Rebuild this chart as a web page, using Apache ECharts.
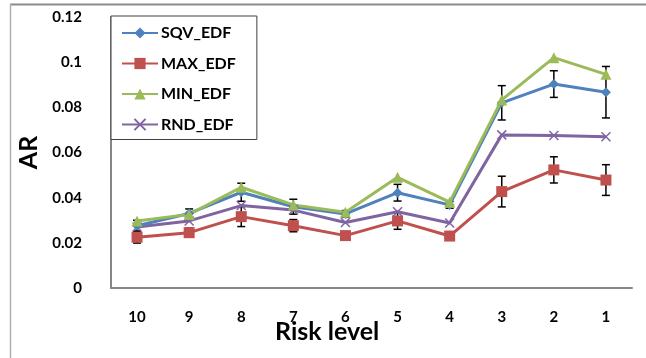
<!DOCTYPE html>
<html><head><meta charset="utf-8">
<script src="https://cdn.jsdelivr.net/npm/echarts@6/dist/echarts.min.js"></script>
<style>html,body{margin:0;padding:0;background:#fff}#c{width:646px;height:358px}</style>
</head><body><div id="c"></div>
<script>
const categories = ['10','9','8','7','6','5','4','3','2','1'];
const sqvEdf = [0.0276, 0.0330, 0.0424, 0.0360, 0.0328, 0.0422, 0.0368, 0.0820, 0.0903, 0.0867];
const maxEdf = [0.0225, 0.0245, 0.0316, 0.0276, 0.0232, 0.0297, 0.0230, 0.0427, 0.0523, 0.0478];
const minEdf = [0.0297, 0.0326, 0.0446, 0.0368, 0.0335, 0.0490, 0.0380, 0.0833, 0.1020, 0.0946];
const rndEdf = [0.0270, 0.0297, 0.0365, 0.0345, 0.0290, 0.0338, 0.0288, 0.0678, 0.0675, 0.0670];
const sqvErr = [0.0024, 0.0020, 0.0040, 0.0033, 0.0015, 0.0037, 0.0015, 0.0076, 0.0059, 0.0114];
const maxErr = [0.0026, 0.0020, 0.0044, 0.0027, 0.0015, 0.0037, 0.0015, 0.0068, 0.0058, 0.0068];
const yTicks = [0, 0.02, 0.04, 0.06, 0.08, 0.1, 0.12];

const FONT = 'Lato';
const chart = echarts.init(document.getElementById('c'), null, {renderer: 'canvas'});

function errData(vals, errs) {
  return vals.map((v, i) => [i, v - errs[i], v + errs[i]]);
}
function errRender(params, api) {
  const x = api.value(0);
  const lo = api.coord([x, api.value(1)]);
  const hi = api.coord([x, api.value(2)]);
  const w = 4;
  const st = {stroke: '#000', lineWidth: 1.5};
  return {type: 'group', children: [
    {type: 'line', shape: {x1: lo[0], y1: lo[1], x2: hi[0], y2: hi[1]}, style: st},
    {type: 'line', shape: {x1: lo[0]-w, y1: lo[1], x2: lo[0]+w, y2: lo[1]}, style: st},
    {type: 'line', shape: {x1: hi[0]-w, y1: hi[1], x2: hi[0]+w, y2: hi[1]}, style: st}
  ]};
}
function lineSeries(name, data, color, symbol, size, extra) {
  return Object.assign({
    name, type: 'line', data, symbol, symbolSize: size, z: 5,
    lineStyle: {color, width: 3}, itemStyle: {color},
    emphasis: {disabled: true}, animation: false
  }, extra || {});
}

chart.setOption({
  animation: false,
  grid: {left: 111, right: 14, top: 17, bottom: 70},
  graphic: [
    {type: 'line', shape: {x1: 10, y1: 4.5, x2: 646, y2: 4.5}, style: {stroke: '#8c8c8c', lineWidth: 2}, silent: true},
    {type: 'line', shape: {x1: 10.5, y1: 4, x2: 10.5, y2: 358}, style: {stroke: '#b0b0b0', lineWidth: 1.5}, silent: true}
  ],
  title: {text: 'Risk level', left: 270, top: 314,
    textStyle: {fontFamily: FONT, fontWeight: 'bold', fontSize: 25, color: '#000'}},
  legend: {
    orient: 'vertical', left: 111, top: 16,
    padding: [9, 21, 7, 10], itemGap: 14.5, itemWidth: 36, itemHeight: 14,
    backgroundColor: '#fff', borderColor: '#404040', borderWidth: 1,
    textStyle: {fontFamily: FONT, fontWeight: 'bold', fontSize: 16, color: '#000', padding: [0,0,0,-2]},
    data: ['SQV_EDF', 'MAX_EDF', 'MIN_EDF', 'RND_EDF'], z: 20
  },
  xAxis: {
    type: 'category', data: categories, boundaryGap: true,
    axisLine: {lineStyle: {color: '#868686', width: 2}},
    axisTick: {show: false},
    axisLabel: {fontFamily: FONT, fontWeight: 'bold', fontSize: 15, color: '#000', margin: 22}
  },
  yAxis: {
    type: 'value', min: 0, max: 0.12, interval: 0.02,
    name: 'AR', nameLocation: 'middle', nameGap: 68, nameRotate: 90,
    nameTextStyle: {fontFamily: FONT, fontWeight: 'bold', fontSize: 25, color: '#000'},
    axisLine: {show: true, lineStyle: {color: '#868686', width: 2}},
    axisTick: {show: false}, splitLine: {show: false},
    axisLabel: {fontFamily: FONT, fontWeight: 'bold', fontSize: 15, color: '#000', margin: 29,
      formatter: v => { const t = yTicks.find(k => Math.abs(k - v) < 1e-9); return t === undefined ? '' : String(t); }}
  },
  series: [
    {type: 'custom', name: 'sqvErr', renderItem: errRender, data: errData(sqvEdf, sqvErr), z: 3, silent: true, encode: {x: 0, y: [1, 2]}},
    {type: 'custom', name: 'maxErr', renderItem: errRender, data: errData(maxEdf, maxErr), z: 3, silent: true, encode: {x: 0, y: [1, 2]}},
    lineSeries('MAX_EDF', maxEdf, '#C0504D', 'rect', 11),
    lineSeries('RND_EDF', rndEdf, '#8064A2', 'path://M0,0L10,10M10,0L0,10', 9,
      {itemStyle: {color: '#8064A2', borderColor: '#8064A2', borderWidth: 1.5}}),
    lineSeries('SQV_EDF', sqvEdf, '#4F81BD', 'diamond', 10),
    lineSeries('MIN_EDF', minEdf, '#9BBB59', 'triangle', 11)
  ]
});
</script></body></html>
